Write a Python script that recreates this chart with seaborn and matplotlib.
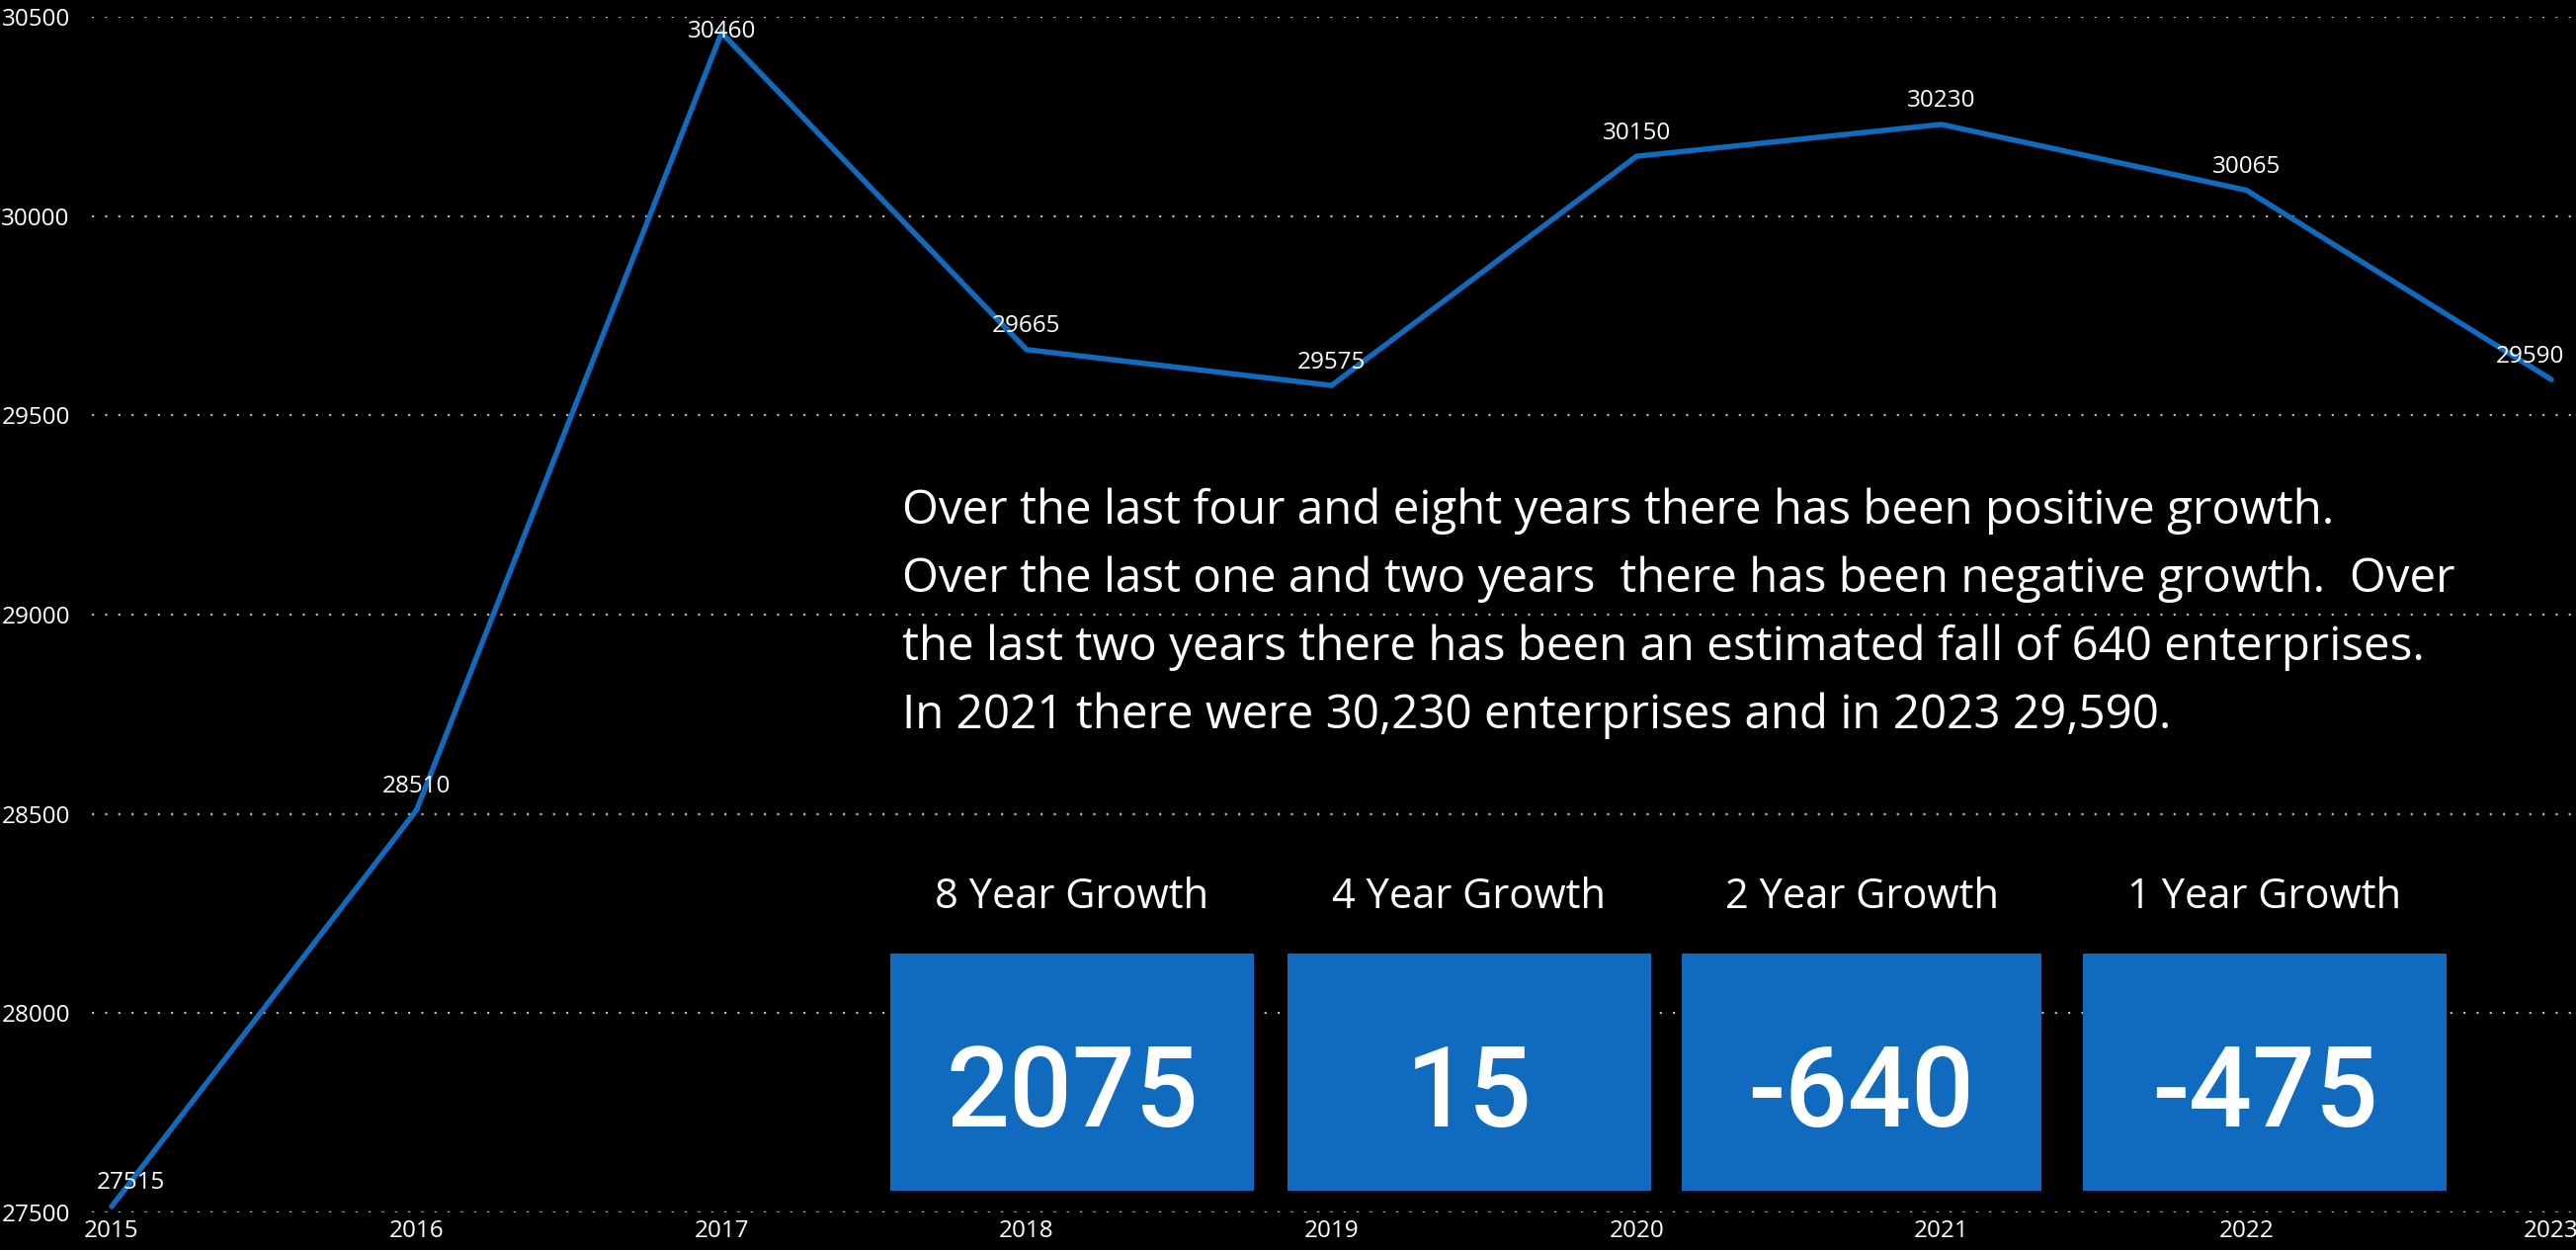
import matplotlib
matplotlib.use("Agg")
import matplotlib.pyplot as plt
import seaborn as sns
import pandas as pd
from matplotlib.patches import Rectangle

# ---------------- data ----------------
years = [2015, 2016, 2017, 2018, 2019, 2020, 2021, 2022, 2023]
enterprises = [27515, 28510, 30460, 29665, 29575, 30150, 30230, 30065, 29590]
y_ticks = [27500, 28000, 28500, 29000, 29500, 30000, 30500]
card_titles = ["8 Year Growth", "4 Year Growth", "2 Year Growth", "1 Year Growth"]
card_values = ["2075", "15", "-640", "-475"]
summary_lines = [
    "Over the last four and eight years there has been positive growth.",
    "Over the last one and two years  there has been negative growth.  Over",
    "the last two years there has been an estimated fall of 640 enterprises.",
    "In 2021 there were 30,230 enterprises and in 2023 29,590.",
]

# ---------------- style ----------------
W, H, DPI = 2607, 1265, 100
BLUE = "#106BBF"
GRID = "#B4B4B4"

sns.set_theme(style="dark", rc={
    "axes.facecolor": "black",
    "figure.facecolor": "black",
    "savefig.facecolor": "black",
    "text.color": "white",
    "xtick.color": "white",
    "ytick.color": "white",
})
plt.rcParams["font.family"] = ["Open Sans", "DejaVu Sans"]

df = pd.DataFrame({"year": years, "enterprises": enterprises})

fig = plt.figure(figsize=(W / DPI, H / DPI), dpi=DPI)
ax = fig.add_axes([93 / W, (H - 1227) / H, (W - 93) / W, (1227 - 17) / H])

sns.lineplot(data=df, x="year", y="enterprises", ax=ax, color=BLUE,
             linewidth=3.9, solid_capstyle="round", solid_joinstyle="miter",
             clip_on=False, zorder=4)

ppy = (2582 - 113) / 8.0
ax.set_xlim(years[0] - 20 / ppy, years[-1] + 25 / ppy)
ax.set_ylim(y_ticks[0], y_ticks[-1])
ax.set_yticks(y_ticks)
ax.set_yticklabels([str(t) for t in y_ticks])
ax.set_xticks(years)
ax.set_xticklabels([str(y) for y in years])
ax.set_xlabel("")
ax.set_ylabel("")
for s in ax.spines.values():
    s.set_visible(False)
ax.grid(False)
ax.yaxis.grid(True, color=GRID, linestyle=(0, (1, 5)), linewidth=1.6, zorder=0)
ax.set_axisbelow(True)
ax.tick_params(axis="y", length=0, pad=16.0, labelsize=17.5)
ax.tick_params(axis="x", length=0, pad=5, labelsize=17.5)

# ---------------- data labels ----------------
annots = []
for x, v in zip(years, enterprises):
    a = ax.annotate(str(v), xy=(x, v), xytext=(0, 17.5), textcoords="offset pixels",
                    ha="center", va="baseline", fontsize=17.5, color="white", zorder=5,
                    annotation_clip=False)
    annots.append(a)

fig.canvas.draw()
renderer = fig.canvas.get_renderer()
for a, x, v in zip(annots, years, enterprises):
    px, py = ax.transData.transform((x, v))
    bb = a.get_window_extent(renderer)
    dx = 0.0
    if bb.x0 < 98:
        dx = 98 - bb.x0
    if bb.x1 > W - 12:
        dx = (W - 12) - bb.x1
    dy = 17.5
    top_limit = H - 21
    cap = 0.72 * 17.5 * DPI / 72
    base = py + dy
    if base + cap > top_limit:
        dy = top_limit - cap - py
    a.set_position((dx, dy))

# ---------------- summary text ----------------
def fx(px):
    return px / W

def fy(py):
    return 1 - py / H

probe = fig.text(0, 0, summary_lines[0], fontsize=32)
fig.canvas.draw()
wpx = probe.get_window_extent(fig.canvas.get_renderer()).width
probe.remove()
para_size = 32 * 1451 / wpx

baselines = [530, 599, 668, 737]
for line, b in zip(summary_lines, baselines):
    fig.text(fx(913), fy(b), line, fontsize=para_size, color="white",
             ha="left", va="baseline", zorder=6)

# ---------------- cards ----------------
card_lefts = [901, 1303, 1702, 2108]
card_rights = [1269, 1671, 2066, 2476]
card_top, card_bottom = 965, 1205
for title, val, l, r in zip(card_titles, card_values, card_lefts, card_rights):
    fig.add_artist(Rectangle((fx(l), fy(card_bottom)), (r - l) / W,
                             (card_bottom - card_top) / H,
                             transform=fig.transFigure, facecolor=BLUE,
                             edgecolor="none", zorder=6))
    cx = (l + r) / 2
    fig.text(fx(cx), fy(919), title, fontsize=30, color="white",
             ha="center", va="baseline", zorder=7)
    fig.text(fx(cx), fy(1140), val, fontsize=81, color="white",
             ha="center", va="baseline", zorder=7,
             family=["Roboto", "DejaVu Sans"], fontweight="medium")

fig.savefig("out.png", dpi=DPI, facecolor="black")
